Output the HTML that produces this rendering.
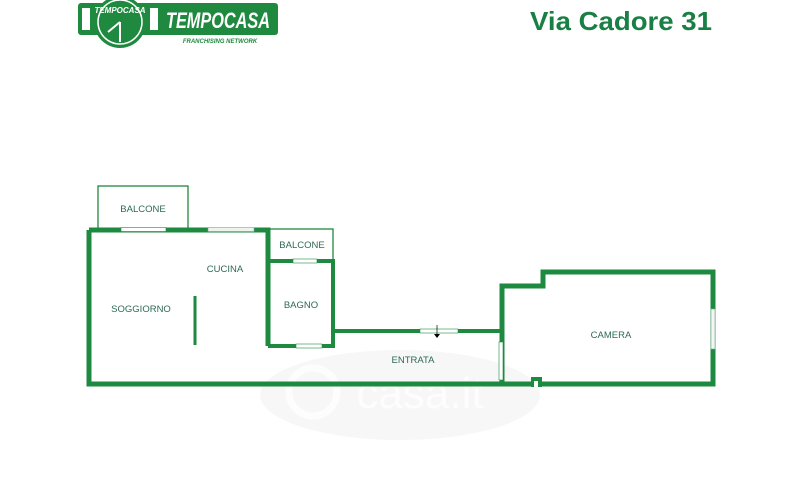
<!DOCTYPE html>
<html><head><meta charset="utf-8"><style>
html,body{margin:0;padding:0;background:#fff;width:800px;height:500px;overflow:hidden}
svg{display:block}
</style></head><body>
<svg width="800" height="500" viewBox="0 0 800 500" xmlns="http://www.w3.org/2000/svg" font-family="Liberation Sans, sans-serif">
<!-- logo -->
<g>
<rect x="78" y="3" width="200" height="32" rx="3" fill="#1f8a3f"/>
<rect x="82" y="8" width="8" height="22" fill="#fff"/>
<rect x="150" y="8" width="8" height="22" fill="#fff"/>
<circle cx="120" cy="22" r="26" fill="#1f8a3f"/>
<circle cx="120" cy="22" r="22" fill="none" stroke="#fff" stroke-width="1.5"/>
<text x="120" y="13" font-size="8" font-weight="bold" font-style="italic" fill="#fff" text-anchor="middle">TEMPOCASA</text>
<line x1="120" y1="22" x2="108" y2="32" stroke="#fff" stroke-width="2"/>
<line x1="120" y1="22" x2="120" y2="42" stroke="#fff" stroke-width="2"/>
<text x="218" y="28" font-size="22" font-weight="bold" font-style="italic" fill="#fff" text-anchor="middle" textLength="104" lengthAdjust="spacingAndGlyphs">TEMPOCASA</text>
<text x="220" y="43" font-size="6" font-weight="bold" font-style="italic" fill="#1f8a3f" text-anchor="middle">FRANCHISING NETWORK</text>
</g>
<text x="621" y="30" font-size="26" font-weight="bold" fill="#1a7f45" text-anchor="middle" textLength="182" lengthAdjust="spacingAndGlyphs">Via Cadore 31</text>
<!-- watermark -->
<ellipse cx="400" cy="395" rx="140" ry="45" fill="#f7f7f7"/>
<text x="420" y="408" font-size="44" fill="#fdfdfd" text-anchor="middle">casa.it</text>
<circle cx="313" cy="392" r="24" fill="none" stroke="#fdfdfd" stroke-width="7"/>
<g fill="none" stroke="#1e8a3f">
<rect x="98" y="186" width="90" height="43" stroke-width="1.3"/>
<rect x="268" y="229" width="65" height="32" stroke-width="1.3"/>
<path d="M89 230 H268 V346 M89 230 V384 H713 V272 H543 V286 H502 V384" stroke-width="5"/>
<path d="M268 261 H333 V346 H268" stroke-width="4"/>
<path d="M333 331 H502" stroke-width="4"/>
<line x1="195" y1="296" x2="195" y2="345" stroke-width="3"/>
</g>
<!-- windows / openings -->
<rect x="121" y="227.5" width="45" height="4" fill="#fff" stroke="#1e8a3f" stroke-width="0.6"/>
<rect x="208" y="227.5" width="46" height="4" fill="#eef3ee" stroke="#7a9" stroke-width="0.6"/>
<rect x="293" y="259" width="24" height="4" fill="#fff" stroke="#1e8a3f" stroke-width="0.6"/>
<rect x="296" y="344" width="26" height="4" fill="#fff" stroke="#1e8a3f" stroke-width="0.6"/>
<rect x="420" y="329" width="38" height="4" fill="#fff" stroke="#1e8a3f" stroke-width="0.6"/>
<rect x="499" y="342" width="4" height="38" fill="#fff" stroke="#1e8a3f" stroke-width="0.6"/>
<rect x="711" y="309" width="4" height="40" fill="#f3f6f3" stroke="#7a9" stroke-width="0.6"/>
<rect x="531" y="377" width="11" height="10" fill="#1e8a3f"/>
<rect x="534" y="381" width="4" height="6" fill="#fff"/>
<line x1="437" y1="325" x2="437" y2="337" stroke="#000" stroke-width="0.7"/>
<path d="M434 334 L440 334 L437 338 Z" fill="#000"/>
<!-- labels -->
<g fill="#2d6b53" font-size="9.5" text-anchor="middle">
<text x="143" y="212">BALCONE</text>
<text x="302" y="248">BALCONE</text>
<text x="225" y="272">CUCINA</text>
<text x="141" y="312">SOGGIORNO</text>
<text x="301" y="308">BAGNO</text>
<text x="413" y="363">ENTRATA</text>
<text x="611" y="338">CAMERA</text>
</g>
</svg>
</body></html>
